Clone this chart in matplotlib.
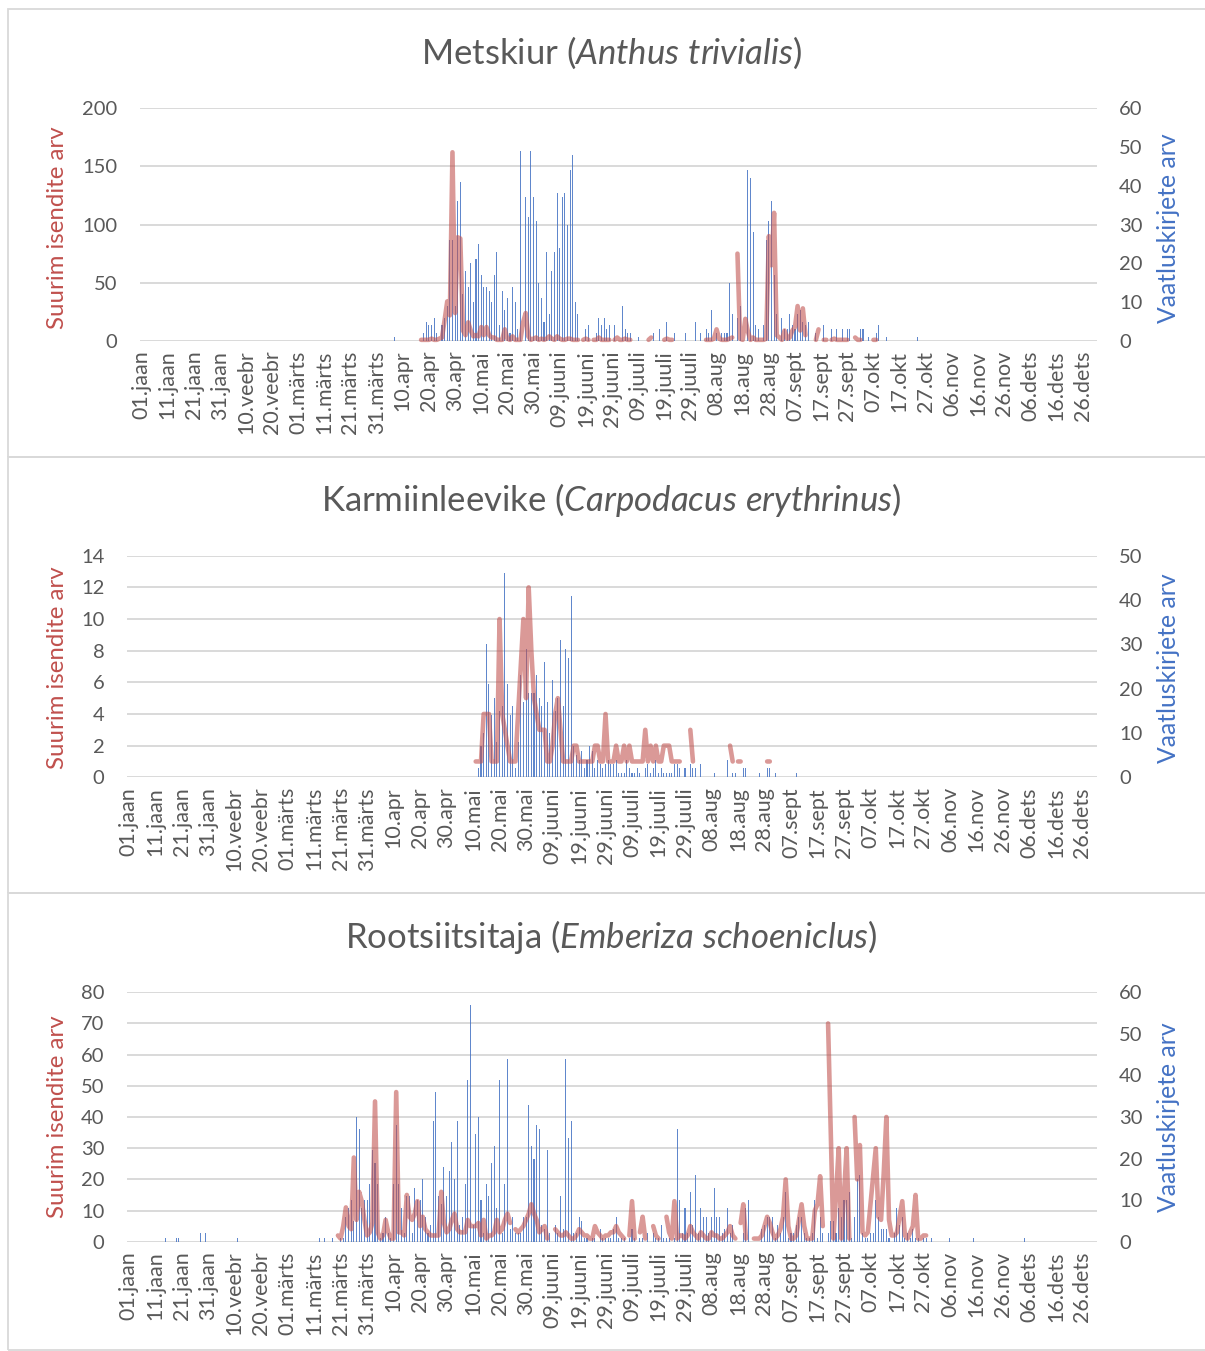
import numpy as np
import matplotlib
matplotlib.use("Agg")
import matplotlib.pyplot as plt
from matplotlib.patches import Rectangle

plt.rcParams['font.family'] = ['Lato', 'DejaVu Sans']
plt.rcParams['mathtext.fontset'] = 'custom'
plt.rcParams['mathtext.rm'] = 'Lato'
plt.rcParams['mathtext.it'] = 'Lato:italic'

# ------------------------------------------------------------
# andmed (päev 0 = 01.jaan, 366 päeva)
# ------------------------------------------------------------
kuupaevad = ["01.jaan", "11.jaan", "21.jaan", "31.jaan", "10.veebr", "20.veebr",
             "01.märts", "11.märts", "21.märts", "31.märts", "10.apr", "20.apr",
             "30.apr", "10.mai", "20.mai", "30.mai", "09.juuni", "19.juuni",
             "29.juuni", "09.juuli", "19.juuli", "29.juuli", "08.aug", "18.aug",
             "28.aug", "07.sept", "17.sept", "27.sept", "07.okt", "17.okt",
             "27.okt", "06.nov", "16.nov", "26.nov", "06.dets", "16.dets", "26.dets"]

# Metskiur: vaatluskirjete arv alates päevast 96
kiur_kirjed_algus = 96
kiur_kirjed = [0, 1, 0, 0, 0, 0, 0, 0, 0, 0, 0, 0,
               2, 5, 4, 4, 6, 2, 0, 4, 6, 9,
               26, 26, 9, 36, 41, 12, 18, 14, 20, 10,
               21, 25, 17, 14, 14, 13, 10, 17, 23, 4,
               13, 8, 11, 2, 14, 10, 3, 49, 0, 37,
               32, 49, 37, 31, 15, 11, 5, 23, 7, 18,
               23, 38, 24, 37, 38, 30, 44, 48, 10, 7,
               0, 0, 3, 4, 0, 0, 2, 6, 4, 6,
               3, 4, 0, 4, 0, 0, 9, 3, 2, 2,
               0, 0, 1, 0, 0, 0, 0, 0, 2, 0,
               3, 0, 0, 5, 0, 0, 2, 0, 0, 0,
               2, 0, 0, 0, 5, 0, 2, 0, 3, 2,
               8, 0, 2, 0, 2, 2, 2, 15, 7, 0,
               6, 9, 0, 0, 44, 42, 28, 4, 3, 0,
               4, 26, 31, 36, 17, 7, 0, 6, 3, 3,
               7, 4, 3, 7, 8, 5, 4, 5, 0, 0,
               2, 0, 0, 4, 0, 0, 3, 0, 3, 0,
               3, 0, 3, 3, 0, 0, 0, 3, 3, 0,
               1, 0, 0, 2, 4, 0, 0, 1, 0, 0,
               0, 0, 0, 0, 0, 0, 0, 0, 0, 1]

# Metskiur: suurim isendite arv alates päevast 107 (None = andmed puuduvad)
kiur_suurim_algus = 107
kiur_suurim = [1, 1, 1, 1, 2, 1, 1, 2, 3, 18,
               34, 22, 162, 24, 89, 88, 9, 5, 16, 9,
               4, 5, 4, 12, 5, 12, 5, 3, 3, 1,
               1, 1, 10, 2, 1, 4, 1, 1, 1, 16,
               24, 4, 1, 2, 3, 1, 2, 1, 2, 4,
               2, 1, 4, 2, 1, 1, 2, 2, 1, 1,
               1, None, 1, 2, 1, None, 1, 1, 3, 1,
               1, 1, 1, None, 1, 3, 1, 1, 2, 1,
               1, None, None, None, None, None, None, 1, 3, None,
               None, None, None, 1, 2, 1, 1, None, None, None,
               None, None, None, None, None, None, None, None, None, 1,
               1, 1, 2, 10, 2, 1, 1, 1, 2, 3,
               None, 75, 2, 1, 19, 8, 1, 3, 1, 1,
               1, 1, 2, 90, 65, 110, 5, 3, 1, 9,
               2, 3, 9, 12, 30, 9, 28, 5, None, None,
               None, 1, 10, None, 1, 1, None, 1, 2, 1,
               1, 1, 1, 1, None, None, 3, 1, 1, None,
               None, None, None, 1, 1]

# Karmiinleevike
leevike_kirjed_algus = 132
leevike_kirjed = [2, 7, 10, 30, 21, 14, 18, 8, 15, 16,
                  46, 21, 14, 16, 2, 8, 23, 17, 29, 19,
                  19, 19, 23, 18, 16, 26, 17, 10, 22, 15,
                  18, 31, 16, 29, 27, 41, 7, 5, 4, 6,
                  2, 4, 7, 6, 2, 4, 3, 2, 3, 4,
                  3, 3, 4, 1, 1, 1, 4, 2, 1, 1,
                  2, 1, 0, 2, 3, 1, 2, 4, 1, 2,
                  1, 1, 1, 1, 3, 3, 2, 0, 2, 0,
                  3, 2, 2, 0, 3, 0, 0, 0, 0, 1,
                  0, 0, 0, 0, 4, 0, 1, 1, 0, 0,
                  2, 2, 0, 0, 0, 0, 1, 0, 0, 2,
                  2, 0, 1, 0, 0, 0, 0, 0, 0, 0,
                  1]

leevike_suurim_algus = 131
leevike_suurim = [1, 1, 1, 4, 4, 4, 1, 1, 1, 10,
                  4, 3, 2, 1, 1, 1, 4, 7, 10, 5,
                  12, 8, 5, 4, 3, 3, 3, 1, 1, 2,
                  4, 5, 3, 1, 1, 1, 1, 2, 2, 1,
                  1, 1, 1, 1, 1, 2, 2, 1, 1, 4,
                  1, 1, 1, 2, 1, 1, 2, 1, 2, 1,
                  1, 1, 1, 1, 3, 1, 2, 1, 2, 1,
                  1, 2, 2, 2, 1, 1, 1, 1, None, None,
                  None, 3, 1, None, None, None, None, None, None, None,
                  None, None, None, None, None, None, 2, 1, None, 1,
                  1, None, None, None, None, None, None, None, None, None,
                  1, 1]

# Rootsiitsitaja
tsiitsitaja_kirjed_algus = 14
tsiitsitaja_kirjed = [1, 0, 0, 0, 1, 1, 0, 0, 0, 0,
                      0, 0, 0, 2, 0, 2, 0, 0, 0, 0,
                      0, 0, 0, 0, 0, 0, 0, 1, 0, 0,
                      0, 0, 0, 0, 0, 0, 0, 0, 0, 0,
                      0, 0, 0, 0, 0, 0, 0, 0, 0, 0,
                      0, 0, 0, 0, 0, 0, 0, 0, 1, 0,
                      1, 0, 0, 1, 0, 0, 1, 1, 6, 8,
                      10, 5, 30, 27, 8, 10, 10, 14, 22, 19,
                      14, 1, 2, 6, 2, 1, 14, 28, 14, 8,
                      2, 11, 11, 2, 13, 10, 10, 15, 6, 2,
                      4, 29, 36, 11, 9, 18, 11, 17, 24, 15,
                      29, 4, 6, 14, 39, 57, 4, 26, 30, 10,
                      2, 14, 11, 19, 23, 8, 39, 2, 14, 44,
                      3, 6, 2, 2, 2, 6, 6, 33, 23, 20,
                      28, 27, 4, 3, 22, 2, 0, 4, 2, 11,
                      3, 44, 25, 29, 2, 2, 6, 5, 1, 1,
                      0, 1, 1, 0, 3, 1, 1, 1, 1, 3,
                      6, 1, 1, 1, 0, 1, 3, 1, 0, 1,
                      1, 0, 2, 0, 2, 1, 1, 4, 1, 1,
                      1, 0, 1, 27, 10, 2, 8, 2, 12, 4,
                      16, 2, 8, 6, 6, 2, 6, 13, 6, 6,
                      2, 3, 8, 2, 4, 0, 0, 0, 2, 8,
                      10, 0, 0, 0, 0, 3, 4, 6, 6, 6,
                      1, 4, 2, 6, 12, 1, 2, 2, 4, 6,
                      6, 2, 1, 1, 2, 10, 1, 6, 2, 0,
                      2, 5, 5, 2, 8, 6, 10, 10, 12, 1,
                      6, 15, 16, 2, 1, 1, 2, 2, 10, 6,
                      3, 3, 3, 1, 0, 2, 8, 4, 6, 1,
                      2, 1, 3, 1, 1, 0, 1, 1, 0, 1,
                      0, 0, 0, 0, 0, 0, 1, 0, 0, 0,
                      0, 0, 0, 0, 0, 1, 0, 0, 0, 0,
                      0, 0, 0, 0, 0, 0, 0, 0, 0, 0,
                      0, 0, 0, 0, 1]

tsiitsitaja_suurim_algus = 79
tsiitsitaja_suurim = [2, 1, 5, 11, 5, 4, 27, 7, 16, 13,
                      7, 2, 3, 6, 45, 3, 1, 2, 7, 3,
                      1, 1, 48, 3, 3, 2, 15, 8, 7, 9,
                      13, 5, 8, 4, 3, 2, 2, 2, 2, 16,
                      6, 3, 4, 7, 9, 4, 3, 3, 3, 7,
                      5, 5, 5, 6, 2, 7, 1, 2, 2, 3,
                      7, 3, 4, 7, 9, 6, None, 4, 3, 4,
                      5, 7, 9, 12, 9, 7, 3, 4, 5, 1,
                      None, None, 4, 3, 2, 2, 3, 2, 1, 1,
                      2, 4, 3, 2, 2, 1, 1, 5, 3, 2,
                      1, 2, 2, 3, 3, 5, 3, 2, 1, None,
                      2, 13, 1, None, 3, 8, 1, None, None, 5,
                      2, 1, None, None, 8, 3, 1, 13, 1, 2,
                      2, 1, 2, 5, 3, 2, 1, 3, 2, 1,
                      1, 3, 2, 2, 1, 1, 2, 3, 5, 2,
                      1, None, 6, 12, 1, None, None, 1, 1, 1,
                      2, 5, 8, 6, 3, 1, 2, 4, 8, 20,
                      5, 1, 1, 2, 7, 12, 5, 1, 1, 1,
                      10, 12, 21, 5, None, 70, 36, 1, 15, 30,
                      1, 15, 30, 1, None, 40, 20, 31, 3, 2,
                      3, 12, 21, 30, 8, 7, 22, 40, 7, 2,
                      2, 3, 8, 13, 2, 1, 3, 5, 15, 1,
                      1, 2, 2]


def paevadeks(algus, vaartused, tyhi=np.nan):
    rida = np.full(366, tyhi, dtype=float)
    rida[algus:algus + len(vaartused)] = [tyhi if v is None else v for v in vaartused]
    return rida


W, H = 1205, 1351
fig = plt.figure(figsize=(W / 100, H / 100), dpi=100)

HALL = "#595959"
VORK = "#d9d9d9"
PUNANE = "#C0504D"
SININE = "#4472C4"

# diagrammide raamid
for y0, y1 in [(9, 457), (457, 893), (893, 1350)]:
    fig.add_artist(Rectangle((8 / W, 1 - y1 / H), (W + 10) / W, (y1 - y0) / H,
                             transform=fig.transFigure, fill=False,
                             edgecolor=VORK, lw=1.3))


def joonista(koht, pealkiri, ladina, pealkiri_y, kirjed, suurim,
             lmax, lsamm, rmax, rsamm, silt_y):
    x0, y0, x1, y1 = koht
    ax = fig.add_axes([x0 / W, 1 - y1 / H, (x1 - x0) / W, (y1 - y0) / H])
    ax2 = ax.twinx()
    paevad = np.arange(366)

    # võrk taustale
    for v in np.arange(0, lmax + 0.001, lsamm):
        ax2.axhline(v * rmax / lmax, color=VORK, lw=1.4, zorder=0)
    ax2.bar(paevad, kirjed, width=0.4, color=SININE, alpha=0.85,
            linewidth=0, zorder=2)
    ax2.set_ylim(0, rmax)

    ax.set_zorder(ax2.get_zorder() + 1)
    ax.patch.set_visible(False)
    ax.plot(paevad, suurim, color=PUNANE, alpha=0.58, lw=3.3,
            solid_joinstyle="round", solid_capstyle="round", clip_on=False)
    ax.set_ylim(0, lmax)
    ax.set_xlim(-0.5, 365.5)

    ax.set_yticks(np.arange(0, lmax + 0.001, lsamm))
    ax2.set_yticks(np.arange(0, rmax + 0.001, rsamm))
    ax.set_xticks(np.arange(0, 361, 10))
    ax.set_xticklabels(kuupaevad, rotation=90)
    ax.tick_params(axis="y", length=0, pad=16.5, labelsize=14.5, labelcolor=HALL)
    ax2.tick_params(axis="y", length=0, pad=16, labelsize=14.5, labelcolor=HALL)
    ax.tick_params(axis="x", length=0, pad=7, labelsize=15.5, labelcolor=HALL)
    for a in (ax, ax2):
        for s in a.spines.values():
            s.set_visible(False)

    ladina_tex = ladina.replace(" ", r"\ ")
    fig.text(611.5 / W, 1 - pealkiri_y / H,
             pealkiri + " ($\\mathit{" + ladina_tex + "}$)",
             ha="center", va="center", fontsize=25, color=HALL)
    fig.text(58 / W, 1 - silt_y / H, "Suurim isendite arv", rotation=90,
             ha="center", va="center", fontsize=17.3, color=PUNANE)
    fig.text(1168 / W, 1 - silt_y / H, "Vaatluskirjete arv", rotation=90,
             ha="center", va="center", fontsize=17.8, color=SININE)


joonista((140, 108, 1097, 341), "Metskiur", "Anthus trivialis", 53,
         paevadeks(kiur_kirjed_algus, kiur_kirjed, 0),
         paevadeks(kiur_suurim_algus, kiur_suurim),
         200, 50, 60, 10, 228)
joonista((127.3, 555.7, 1097, 777.3), "Karmiinleevike", "Carpodacus erythrinus", 500,
         paevadeks(leevike_kirjed_algus, leevike_kirjed, 0),
         paevadeks(leevike_suurim_algus, leevike_suurim),
         14, 2, 50, 10, 668)
joonista((127.3, 992.3, 1097, 1241.7), "Rootsiitsitaja", "Emberiza schoeniclus", 937,
         paevadeks(tsiitsitaja_kirjed_algus, tsiitsitaja_kirjed, 0),
         paevadeks(tsiitsitaja_suurim_algus, tsiitsitaja_suurim),
         80, 10, 60, 10, 1117)

fig.savefig("out.png", dpi=100, facecolor="white")
